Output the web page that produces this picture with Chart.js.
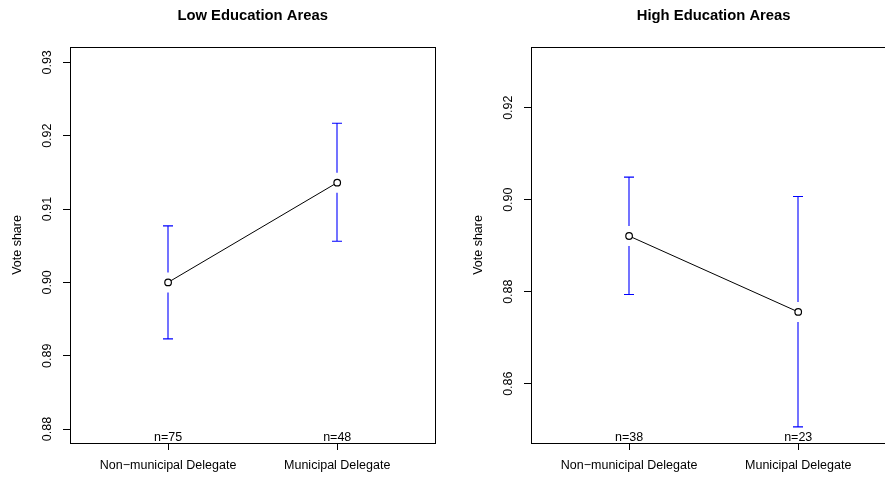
<!DOCTYPE html>
<html><head><meta charset="utf-8">
<script src="https://cdn.jsdelivr.net/npm/chart.js@4/dist/chart.umd.min.js"></script>
<style>
html,body{margin:0;padding:0;overflow:hidden;background:#fff;width:885px;height:477px;position:relative}
.p{position:absolute;top:0;width:442px;height:477px}
</style></head><body>
<div class="p" style="left:0"><canvas id="c1" width="442" height="477"></canvas></div>
<div class="p" style="left:461px"><canvas id="c2" width="442" height="477"></canvas></div>
<script>
const categories = ["Non\u2212municipal Delegate", "Municipal Delegate"];
const xPositions = [1, 2];
const xRange = [0.42, 2.58];

const lowTitle = "Low Education Areas";
const lowMean  = [0.9000, 0.9136];
const lowLower = [0.8923, 0.9056];
const lowUpper = [0.9077, 0.9217];
const lowN     = ["n=75", "n=48"];
const lowTicks = [0.88, 0.89, 0.90, 0.91, 0.92, 0.93];
const lowRange = [0.8781, 0.9321];

const highTitle = "High Education Areas";
const highMean  = [0.8921, 0.8756];
const highLower = [0.8794, 0.8506];
const highUpper = [0.9049, 0.9007];
const highN     = ["n=38", "n=23"];
const highTicks = [0.86, 0.88, 0.90, 0.92];
const highRange = [0.8471, 0.9332];

const FONT = "'Liberation Sans', Arial, Helvetica, sans-serif";

const extras = {
  id: 'extras',
  beforeDatasetsDraw(chart, args, o) {
    const {ctx, scales: {x, y}} = chart;
    ctx.save();
    ctx.strokeStyle = '#0000ff';
    ctx.lineWidth = 1.1;
    o.lower.forEach((lo, i) => {
      const px = Math.round(x.getPixelForValue(xPositions[i]));
      const pm = y.getPixelForValue(o.mean[i]);
      const pl = y.getPixelForValue(lo);
      const pu = y.getPixelForValue(o.upper[i]);
      const gap = 10, cap = 5;
      ctx.beginPath();
      if (pm - gap > pu) { ctx.moveTo(px, pu); ctx.lineTo(px, pm - gap); }
      if (pm + gap < pl) { ctx.moveTo(px, pm + gap); ctx.lineTo(px, pl); }
      ctx.moveTo(px - cap, pu); ctx.lineTo(px + cap, pu);
      ctx.moveTo(px - cap, pl); ctx.lineTo(px + cap, pl);
      ctx.stroke();
    });
    ctx.restore();
  },
  afterDraw(chart, args, o) {
    const {ctx, chartArea: a, scales: {x}} = chart;
    ctx.save();
    ctx.strokeStyle = '#000';
    ctx.lineWidth = 1;
    ctx.strokeRect(Math.round(a.left) + 0.5, Math.round(a.top) + 0.5,
                   Math.round(a.right - a.left), Math.round(a.bottom - a.top));
    ctx.fillStyle = '#000';
    ctx.font = '12.5px ' + FONT;
    ctx.textAlign = 'center';
    ctx.textBaseline = 'alphabetic';
    o.n.forEach((t, i) => {
      ctx.fillText(t, x.getPixelForValue(xPositions[i]), a.bottom - 2);
    });
    ctx.restore();
  }
};

function makeChart(id, title, mean, lower, upper, n, ticks, range, padBottom) {
  return new Chart(document.getElementById(id), {
    type: 'line',
    data: {
      datasets: [{
        data: xPositions.map((xv, i) => ({x: xv, y: mean[i]})),
        borderColor: '#000',
        borderWidth: 1,
        pointRadius: 3.3,
        pointBorderWidth: 1.2,
        pointBackgroundColor: '#fff',
        pointBorderColor: '#000',
        tension: 0
      }]
    },
    plugins: [extras],
    options: {
      responsive: false,
      animation: false,
      events: [],
      layout: {padding: {left: 0, right: 6.7, top: 0, bottom: padBottom}},
      plugins: {
        legend: {display: false},
        tooltip: {enabled: false},
        title: {
          display: true, text: title, color: '#000', fullSize: false,
          font: {family: FONT, size: 14.8, weight: 'bold', lineHeight: 1.2},
          padding: {top: 7, bottom: 22.2}
        },
        extras: {mean, lower, upper, n}
      },
      scales: {
        x: {
          type: 'linear', min: xRange[0], max: xRange[1],
          border: {display: false},
          grid: {display: true, drawOnChartArea: false, drawTicks: true, tickLength: 7, color: '#000'},
          ticks: {
            autoSkip: false, maxRotation: 0, minRotation: 0, padding: 8, color: '#000',
            font: {family: FONT, size: 12.5},
            callback: (v, i) => categories[i]
          },
          afterBuildTicks: s => { s.ticks = xPositions.map(v => ({value: v})); },
          afterFit: s => { s.height = 34 - padBottom; s.paddingLeft = 0; s.paddingRight = 0; }
        },
        y: {
          type: 'linear', min: range[0], max: range[1],
          border: {display: false},
          grid: {display: true, drawOnChartArea: false, drawTicks: true, tickLength: 7, color: '#000'},
          title: {display: true, text: 'Vote share', color: '#000',
                  font: {family: FONT, size: 12.5, lineHeight: 1.2}, padding: {top: 10, bottom: 0}},
          ticks: {
            autoSkip: false, minRotation: 90, maxRotation: 90, crossAlign: 'center',
            padding: 3.5, color: '#000', font: {family: FONT, size: 12.5},
            callback: v => Number(v).toFixed(2)
          },
          afterBuildTicks: s => { s.ticks = ticks.map(v => ({value: v})); },
          afterFit: s => { s.width = 70; s.paddingTop = 0; s.paddingBottom = 0; }
        }
      }
    }
  });
}

makeChart('c1', lowTitle, lowMean, lowLower, lowUpper, lowN, lowTicks, lowRange, 0);
makeChart('c2', highTitle, highMean, highLower, highUpper, highN, highTicks, highRange, 1);
</script>
</body></html>
